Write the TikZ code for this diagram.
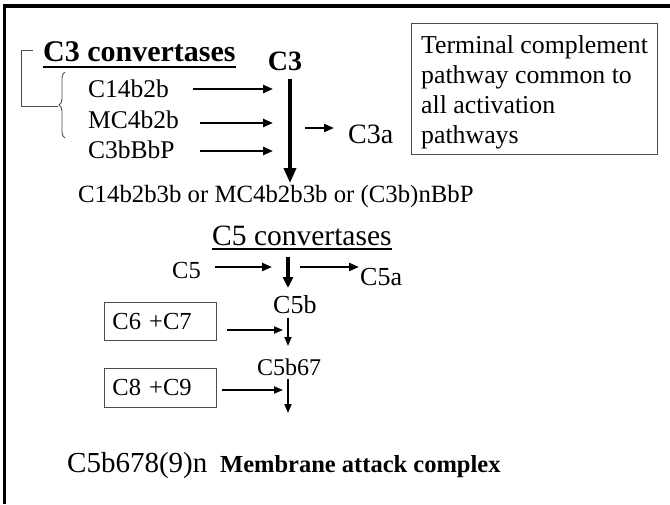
\documentclass[tikz,border=0pt]{standalone}
\usepackage{fontspec}
\setmainfont{Liberation Serif}
\usetikzlibrary{arrows.meta,decorations.pathreplacing,calc}
\begin{document}
\begin{tikzpicture}[x=1pt,y=-1pt,
  txt/.style={inner sep=0pt,anchor=base west,font=\fontsize{25.5}{30}\selectfont},
  bigtxt/.style={inner sep=0pt,anchor=base west,font=\fontsize{30}{34}\selectfont\bfseries},
  arr/.style={line width=2.4pt,-{Triangle[length=10pt,width=8pt]}},
  thinarr/.style={line width=1.8pt,-{Triangle[length=9pt,width=7pt]}},
  mainarr/.style={line width=3.5pt,-{Triangle[length=15pt,width=12pt]}},
  boxed/.style={draw=black!70,line width=0.9pt,anchor=north west,inner xsep=8pt,inner ysep=0pt,align=left,font=\fontsize{24.5}{28}\selectfont},
  frame/.style={line width=3.2pt,black}]
\useasboundingbox (0,0) rectangle (670,504);
% page frame (top and left)
\coordinate (fl) at (4.5,504);
\coordinate (ftl) at (4.5,6);
\coordinate (ftr) at (670,6);
\draw[frame] (fl) -- (ftl) -- (ftr);
% heading
\node[bigtxt] (c3conv) at (43,61) {C3 convertases};
\draw[line width=2pt] ([yshift=-6pt]c3conv.base west) -- ([yshift=-6pt]c3conv.base east);
\node[bigtxt,font=\fontsize{28}{32}\selectfont\bfseries,anchor=base] (c3) at (285,70) {C3};
% bracket and brace
\coordinate (bk1) at (33,50);
\coordinate (bk2) at (21,50);
\coordinate (bk3) at (21,106);
\coordinate (bk4) at (58,106);
\draw[black!70,line width=0.9pt] (bk1) -- (bk2) -- (bk3) -- (bk4);
\coordinate (brb) at (65,138);
\coordinate (brt) at (65,72);
\draw[black!70,line width=0.9pt,decorate,decoration={brace,amplitude=6pt}] (brb) -- (brt);
% convertases
\node[txt] (cv1) at (88,97) {C14b2b};
\node[txt] (cv2) at (88,128) {MC4b2b};
\node[txt] (cv3) at (88,158) {C3bBbP};
\coordinate (a1s) at (193,89); \coordinate (a1e) at (273,89);
\coordinate (a2s) at (200,123); \coordinate (a2e) at (273,123);
\coordinate (a3s) at (200,151); \coordinate (a3e) at (273,151);
\draw[arr] (a1s) -- (a1e);
\draw[arr] (a2s) -- (a2e);
\draw[arr] (a3s) -- (a3e);
\coordinate (m1) at (290,79); \coordinate (m2) at (290,183);
\draw[mainarr] (m1) -- (m2);
\coordinate (c3as) at (305,128); \coordinate (c3ae) at (334,128);
\draw[arr] (c3as) -- (c3ae);
\node[txt,font=\fontsize{28}{30}\selectfont] (c3a) at (348,143) {C3a};
% terminal box
\node[draw=black!70,line width=0.9pt,anchor=north west,minimum width=246pt,minimum height=131pt,inner sep=0pt] (term) at (411,23) {};
\node[txt,font=\fontsize{25.8}{30}\selectfont] (t1) at (421,53) {Terminal complement};
\node[txt,font=\fontsize{25.8}{30}\selectfont] (t2) at (421,83) {pathway common to};
\node[txt,font=\fontsize{25.8}{30}\selectfont] (t3) at (421,113) {all activation};
\node[txt,font=\fontsize{25.8}{30}\selectfont] (t4) at (421,143) {pathways};
% C3b complexes
\node[txt,font=\fontsize{24.8}{30}\selectfont] (c3b) at (78,202) {C14b2b3b or MC4b2b3b or (C3b)nBbP};
\node[txt,font=\fontsize{29.5}{32}\selectfont] (c5conv) at (212,245) {C5 convertases};
\draw[line width=1.3pt] ([yshift=-4pt]c5conv.base west) -- ([yshift=-4pt]c5conv.base east);
% C5 row
\node[txt,font=\fontsize{24.5}{30}\selectfont] (c5) at (172,278) {C5};
\coordinate (b1s) at (215,267); \coordinate (b1e) at (272,267);
\draw[arr] (b1s) -- (b1e);
\coordinate (b2s) at (288,257); \coordinate (b2e) at (288,288);
\draw[line width=3.2pt,-{Triangle[length=11pt,width=10pt]}] (b2s) -- (b2e);
\coordinate (b3s) at (300,267); \coordinate (b3e) at (359,267);
\draw[arr] (b3s) -- (b3e);
\node[txt,font=\fontsize{26}{30}\selectfont] (c5a) at (360,285) {C5a};
\node[txt,font=\fontsize{26}{30}\selectfont] (c5b) at (273,313) {C5b};
% C6 C7
\node[boxed,minimum width=112pt,minimum height=38pt,text width=96pt] (c67) at (104,302) {C6 +C7};
\coordinate (c1s) at (227,330); \coordinate (c1e) at (283,330);
\draw[thinarr] (c1s) -- (c1e);
\coordinate (c2s) at (288,318); \coordinate (c2e) at (288,346);
\draw[thinarr] (c2s) -- (c2e);
\node[txt,font=\fontsize{24}{30}\selectfont] (c5b67) at (257,375) {C5b67};
% C8 C9
\node[boxed,minimum width=112pt,minimum height=39pt,text width=96pt] (c89) at (104,368) {C8 +C9};
\coordinate (d1s) at (222,390); \coordinate (d1e) at (283,390);
\draw[thinarr] (d1s) -- (d1e);
\coordinate (d2s) at (288,379); \coordinate (d2e) at (288,413);
\draw[thinarr] (d2s) -- (d2e);
% MAC
\node[txt,font=\fontsize{29}{32}\selectfont] (mac1) at (67,472) {C5b678(9)n};
\node[txt,font=\fontsize{24.5}{32}\selectfont\bfseries] (mac2) at (220,472) {Membrane attack complex};
\end{tikzpicture}
\end{document}
